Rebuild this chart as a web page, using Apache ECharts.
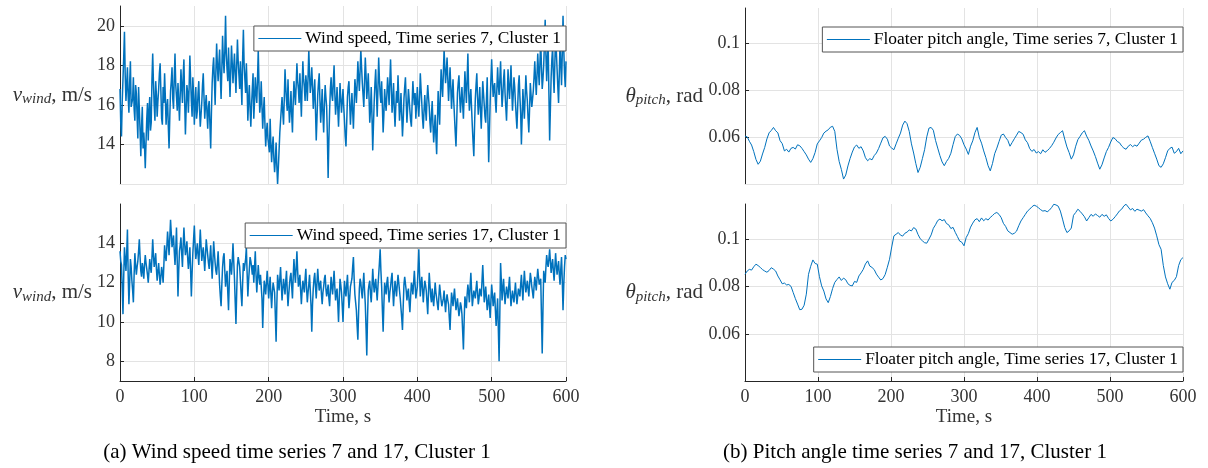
<!DOCTYPE html>
<html>
<head>
<meta charset="utf-8">
<title>Wind speed and pitch angle time series</title>
<script src="https://cdn.jsdelivr.net/npm/echarts@6/dist/echarts.min.js"></script>
<style>
  html, body { margin: 0; padding: 0; background: #fff; }
  #chart { width: 1208px; height: 468px; }
</style>
</head>
<body>
<div id="chart"></div>
<script>
// Sampling steps of the stored series, seconds
const WIND_STEP = 1;
const PITCH_STEP = 3;

// Wind speed, time series 7 (m/s), one value per second from 0 to 600 s
const windTs7 = [
  16.8, 15.1, 14.4, 16.2, 17.3, 18.4, 19.7, 17.5, 16.2, 17.0, 17.9, 16.4, 15.6, 17.1, 18.2, 15.9, 16.1, 16.3, 17.4, 15.8,
  15.2, 17.0, 16.6, 15.4, 14.3, 16.9, 15.8, 14.7, 13.4, 14.9, 15.9, 13.8, 14.6, 13.9, 12.8, 14.1, 15.3, 16.1, 14.2, 15.6,
  16.4, 14.7, 15.1, 17.3, 18.6, 17.1, 16.0, 15.2, 17.2, 16.5, 15.4, 16.2, 16.8, 17.6, 18.1, 16.7, 15.3, 15.0, 16.9, 16.1,
  17.6, 16.4, 15.0, 15.9, 16.3, 14.9, 13.8, 15.4, 16.7, 17.2, 17.9, 16.3, 15.8, 17.4, 18.6, 17.0, 16.4, 15.7, 17.1, 16.2,
  15.2, 16.5, 17.8, 16.9, 16.1, 17.5, 18.3, 16.2, 14.5, 15.8, 17.0, 16.6, 15.6, 16.9, 18.5, 17.3, 16.2, 15.4, 17.4, 16.5,
  15.0, 16.1, 16.9, 15.3, 15.7, 16.6, 17.2, 15.8, 14.9, 15.5, 16.1, 17.0, 17.6, 16.4, 15.3, 16.0, 16.5, 15.6, 14.8, 15.9,
  16.2, 15.0, 13.8, 15.6, 17.1, 17.9, 18.4, 17.2, 16.0, 17.7, 19.1, 18.0, 17.2, 18.1, 18.8, 17.4, 16.3, 17.8, 19.5, 18.3,
  17.6, 18.7, 20.5, 18.6, 17.8, 17.2, 18.9, 17.6, 16.4, 17.7, 19.0, 18.1, 17.1, 17.9, 18.6, 17.5, 16.6, 18.0, 19.3, 18.2,
  17.5, 16.8, 18.2, 17.1, 16.0, 18.4, 19.8, 18.0, 17.3, 16.6, 18.1, 16.9, 15.2, 16.3, 17.0, 15.8, 14.9, 16.0, 16.8, 17.6,
  15.3, 16.2, 17.4, 16.6, 16.1, 17.3, 18.8, 17.0, 15.6, 16.1, 17.2, 15.9, 14.8, 15.7, 16.4, 15.0, 13.9, 14.6, 15.1, 14.3,
  14.2, 13.6, 15.3, 14.0, 13.1, 13.9, 14.4, 13.3, 12.6, 13.2, 14.1, 12.9, 12.0, 12.8, 13.7, 14.6, 15.2, 15.8, 16.4, 15.6,
  15.0, 16.3, 17.8, 16.9, 16.2, 15.7, 17.3, 16.0, 15.1, 15.8, 16.7, 15.5, 14.6, 16.1, 17.2, 16.6, 16.0, 17.0, 18.1, 17.2,
  16.8, 16.1, 17.6, 16.5, 15.4, 16.9, 18.2, 17.3, 16.9, 16.2, 17.5, 17.0, 16.2, 17.4, 18.8, 17.5, 16.6, 17.1, 17.9, 16.9,
  15.8, 16.6, 17.3, 15.7, 14.2, 15.3, 16.5, 17.1, 17.6, 16.2, 15.1, 15.9, 16.8, 15.5, 14.6, 16.0, 17.0, 16.4, 15.9, 14.4,
  12.3, 14.2, 15.7, 16.8, 17.4, 16.5, 16.2, 17.2, 18.0, 16.6, 15.5, 16.1, 16.9, 15.8, 14.9, 16.0, 17.1, 16.3, 15.6, 16.2,
  16.8, 15.9, 15.2, 14.4, 13.9, 15.1, 16.4, 16.9, 17.2, 16.1, 15.0, 15.8, 16.6, 15.7, 14.8, 16.0, 17.3, 16.8, 16.1, 17.0,
  18.2, 17.4, 16.7, 17.7, 18.8, 17.9, 17.1, 16.5, 15.9, 17.2, 18.4, 17.5, 16.3, 16.9, 17.6, 16.4, 15.1, 15.8, 16.9, 15.4,
  13.7, 15.0, 16.2, 17.1, 17.8, 16.6, 15.4, 16.8, 18.4, 17.3, 16.5, 16.1, 17.2, 15.9, 14.6, 15.5, 16.8, 16.2, 15.7, 16.5,
  17.4, 16.8, 16.0, 17.2, 18.3, 16.9, 15.6, 16.2, 17.1, 15.8, 14.9, 15.9, 16.7, 16.1, 17.5, 16.4, 15.2, 15.8, 16.6, 15.5,
  14.4, 15.2, 16.3, 16.9, 17.4, 16.2, 15.1, 15.9, 16.8, 16.3, 15.7, 15.2, 14.9, 16.1, 17.2, 16.5, 16.0, 16.6, 15.3, 16.1,
  16.9, 16.0, 15.4, 16.3, 17.6, 16.8, 16.1, 15.3, 14.8, 15.7, 16.5, 15.8, 15.2, 16.3, 17.0, 16.4, 15.9, 15.1, 14.6, 15.5,
  16.2, 15.0, 14.1, 14.8, 15.5, 14.4, 13.5, 15.1, 16.7, 15.8, 15.0, 16.5, 17.8, 17.0, 16.4, 17.6, 18.8, 17.9, 17.1, 17.7,
  18.4, 17.3, 16.2, 17.0, 17.9, 16.9, 15.8, 16.6, 17.3, 16.2, 15.4, 14.6, 13.9, 15.2, 16.6, 17.1, 17.5, 16.4, 15.6, 16.3,
  16.9, 16.0, 15.3, 16.5, 17.7, 16.9, 16.1, 17.3, 18.6, 16.8, 15.7, 16.3, 16.8, 15.8, 14.9, 14.1, 13.4, 15.0, 16.3, 17.0,
  17.6, 16.4, 15.5, 16.1, 16.9, 15.7, 14.8, 16.0, 17.2, 16.6, 16.0, 15.4, 15.1, 16.3, 17.4, 15.2, 13.1, 14.6, 16.2, 17.3,
  18.3, 17.2, 16.4, 16.9, 17.1, 16.2, 15.6, 16.8, 17.9, 17.0, 16.5, 17.3, 18.2, 16.9, 15.9, 16.5, 17.3, 17.8, 16.6, 15.9,
  15.2, 16.4, 17.8, 17.0, 16.3, 17.1, 18.0, 16.8, 15.7, 16.5, 17.4, 16.9, 16.1, 15.4, 14.8, 15.9, 17.0, 17.5, 16.4, 15.6,
  14.0, 15.3, 16.8, 16.0, 15.3, 16.4, 17.5, 16.7, 16.2, 15.3, 14.6, 15.8, 17.1, 16.5, 15.9, 16.3, 16.7, 17.4, 18.2, 17.3,
  16.5, 17.5, 18.6, 17.7, 17.0, 18.2, 19.3, 17.9, 16.8, 17.3, 18.0, 19.1, 20.3, 18.5, 17.2, 18.4, 19.1, 16.6, 14.2, 15.8,
  17.4, 18.3, 18.9, 17.5, 16.6, 18.1, 19.6, 18.7, 17.8, 16.9, 16.1, 17.6, 19.2, 18.1, 17.0, 18.6, 20.5, 18.8, 17.6, 16.9,
  18.2
];

// Wind speed, time series 17 (m/s), one value per second from 0 to 600 s
const windTs17 = [
  13.6, 13.1, 12.9, 11.7, 10.4, 12.3, 13.8, 13.2, 12.6, 13.5, 14.7, 12.4, 10.9, 12.0, 13.2, 12.8, 12.1, 11.6, 11.0, 12.4,
  13.5, 12.9, 12.4, 12.8, 13.1, 13.6, 14.2, 13.3, 12.6, 12.3, 13.0, 12.7, 12.2, 12.9, 13.4, 13.0, 12.7, 12.4, 12.0, 12.6,
  13.2, 12.8, 12.5, 13.3, 14.2, 13.4, 12.8, 13.1, 13.5, 12.7, 12.1, 12.6, 13.0, 12.4, 11.9, 12.3, 12.8, 12.5, 12.0, 12.9,
  13.9, 13.4, 13.1, 13.8, 14.6, 14.0, 13.4, 14.3, 15.2, 14.5, 13.8, 14.1, 14.4, 13.6, 12.9, 13.7, 14.8, 13.1, 11.3, 12.6,
  13.6, 13.9, 14.3, 13.5, 12.8, 13.9, 14.8, 14.0, 13.4, 13.7, 14.1, 13.3, 12.7, 13.2, 13.8, 12.6, 11.3, 12.5, 13.5, 14.2,
  14.9, 13.9, 13.2, 13.6, 14.0, 13.4, 12.9, 13.8, 14.7, 13.9, 13.1, 13.5, 13.8, 13.2, 12.6, 13.4, 14.2, 13.8, 13.4, 13.0,
  12.7, 13.3, 13.9, 13.0, 12.2, 13.1, 14.1, 13.5, 13.0, 12.6, 12.4, 13.0, 13.6, 12.8, 11.9, 11.3, 10.8, 11.9, 12.8, 13.3,
  13.5, 12.6, 11.8, 12.3, 12.6, 11.5, 10.6, 12.0, 13.2, 12.9, 12.4, 13.1, 14.0, 13.1, 12.2, 11.0, 9.9, 11.5, 12.9, 13.3,
  13.4, 12.8, 12.1, 11.4, 10.8, 12.0, 13.0, 12.6, 12.5, 13.2, 13.8, 12.5, 11.3, 12.1, 12.7, 13.3, 13.1, 12.8, 12.4, 12.9,
  12.0, 12.8, 13.6, 12.4, 11.5, 12.2, 12.9, 12.3, 11.9, 12.4, 12.5, 11.2, 9.7, 11.0, 12.1, 11.8, 11.4, 12.0, 12.6, 11.9,
  11.2, 11.8, 12.3, 11.4, 10.7, 11.5, 12.0, 11.9, 11.5, 10.3, 9.0, 10.9, 12.4, 12.0, 11.6, 12.2, 12.8, 11.9, 11.1, 11.7,
  12.2, 11.8, 11.4, 12.1, 12.6, 11.6, 10.8, 11.4, 11.9, 12.3, 12.5, 11.8, 11.2, 12.3, 13.2, 12.5, 12.0, 12.8, 13.6, 12.6,
  11.8, 12.0, 12.4, 11.6, 10.9, 11.6, 12.1, 11.8, 11.5, 12.2, 12.7, 11.7, 11.0, 11.5, 11.9, 12.4, 12.3, 10.8, 9.5, 10.9,
  11.7, 12.2, 12.5, 11.8, 11.2, 12.0, 12.7, 12.1, 11.6, 11.9, 12.1, 11.4, 10.9, 11.5, 11.8, 12.2, 12.4, 11.7, 11.3, 11.6,
  11.9, 11.2, 10.8, 11.6, 12.3, 11.8, 11.4, 12.0, 12.6, 11.8, 11.1, 11.5, 11.7, 10.9, 10.0, 11.2, 12.2, 11.9, 11.5, 10.8,
  10.0, 11.1, 12.1, 11.6, 11.3, 11.9, 12.4, 11.5, 10.7, 11.2, 11.8, 12.0, 12.2, 12.8, 13.3, 12.2, 11.4, 11.0, 10.6, 9.8,
  9.1, 10.5, 11.7, 12.2, 12.0, 11.5, 11.2, 11.9, 12.5, 11.6, 10.9, 9.7, 8.3, 10.2, 11.6, 11.9, 12.1, 11.4, 11.0, 11.8,
  12.7, 12.0, 11.5, 11.9, 12.2, 11.6, 11.1, 11.8, 12.4, 13.0, 13.7, 12.6, 11.8, 10.6, 9.5, 10.9, 12.0, 11.7, 11.4, 12.0,
  12.3, 11.6, 11.0, 11.5, 11.8, 12.2, 12.5, 11.6, 10.8, 11.5, 12.1, 11.7, 11.3, 11.9, 12.4, 12.0, 11.6, 11.2, 10.7, 10.2,
  9.6, 10.8, 11.9, 12.3, 12.2, 11.6, 11.1, 11.5, 11.7, 11.0, 10.5, 11.3, 12.0, 11.8, 11.4, 12.0, 12.6, 11.9, 11.2, 11.5,
  11.8, 12.7, 13.7, 12.4, 11.3, 11.9, 12.3, 11.7, 11.0, 11.6, 12.1, 11.9, 11.6, 11.0, 10.4, 11.5, 12.5, 11.9, 11.3, 11.0,
  11.7, 11.2, 10.8, 11.4, 12.0, 11.5, 11.2, 10.9, 10.6, 11.3, 11.9, 11.5, 11.1, 10.8, 10.7, 11.2, 11.6, 11.0, 10.5, 11.1,
  11.4, 11.1, 10.9, 10.2, 9.6, 10.6, 11.5, 11.2, 10.8, 11.3, 11.7, 11.1, 10.6, 10.9, 11.2, 10.7, 10.3, 10.6, 11.0, 10.8,
  10.4, 9.5, 8.6, 10.1, 11.3, 11.0, 10.7, 11.4, 11.9, 11.5, 11.0, 11.8, 12.5, 11.6, 10.8, 11.2, 11.6, 11.4, 11.2, 11.7,
  12.1, 11.5, 10.9, 11.2, 11.7, 11.5, 11.3, 12.1, 12.9, 12.0, 11.0, 11.4, 11.8, 11.2, 10.6, 11.0, 11.4, 10.8, 10.2, 11.1,
  11.9, 11.4, 10.8, 11.2, 11.5, 10.6, 9.8, 10.5, 11.2, 9.6, 8.0, 10.5, 13.0, 12.1, 11.1, 11.7, 12.2, 11.5, 10.9, 11.4,
  11.8, 11.5, 11.2, 11.8, 12.3, 11.5, 10.8, 11.2, 11.6, 11.3, 11.0, 11.5, 12.0, 11.4, 10.9, 11.3, 11.7, 11.5, 11.3, 11.9,
  12.4, 11.7, 11.1, 11.9, 12.6, 12.0, 11.5, 11.8, 12.1, 11.7, 11.3, 11.9, 12.5, 12.2, 11.8, 11.5, 11.2, 11.8, 12.3, 12.0,
  11.6, 12.2, 12.7, 12.3, 11.9, 12.0, 12.2, 10.3, 8.4, 10.6, 12.6, 12.3, 12.0, 12.8, 13.4, 13.0, 12.8, 13.2, 13.7, 13.1,
  12.5, 12.9, 13.2, 12.6, 12.1, 12.8, 13.5, 12.9, 12.4, 12.8, 13.1, 12.4, 11.9, 12.7, 13.3, 12.1, 10.6, 11.9, 12.8, 13.4,
  13.2
];

// Floater pitch angle, time series 7 (rad), one value every 3 s from 0 to 600 s
const pitchTs7 = [
  0.0604, 0.0601, 0.0582, 0.0566, 0.0538, 0.0505, 0.0484, 0.0497, 0.0528, 0.0556,
  0.0592, 0.0618, 0.0628, 0.0641, 0.0627, 0.0618, 0.0585, 0.0572, 0.0541, 0.0548,
  0.0536, 0.0552, 0.0556, 0.0549, 0.0567, 0.0563, 0.0552, 0.0538, 0.0524, 0.0506,
  0.0492, 0.0508, 0.0534, 0.0571, 0.0584, 0.0598, 0.0617, 0.0625, 0.0631, 0.0642,
  0.0646, 0.0624, 0.0548, 0.0496, 0.0462, 0.0421, 0.0438, 0.0477, 0.0509, 0.0536,
  0.0558, 0.0566, 0.0552, 0.0559, 0.0541, 0.0512, 0.0499, 0.0508, 0.0503, 0.0521,
  0.0532, 0.0551, 0.0574, 0.0597, 0.0603, 0.0591, 0.0562, 0.0553, 0.0546, 0.0571,
  0.0595, 0.0617, 0.0651, 0.0668, 0.0657, 0.0624, 0.0571, 0.0532, 0.0487, 0.0449,
  0.0471, 0.0508, 0.0546, 0.0601, 0.0638, 0.0641, 0.0629, 0.0586, 0.0553, 0.0521,
  0.0494, 0.0478, 0.0496, 0.0509, 0.0531, 0.0568, 0.0602, 0.0613, 0.0607, 0.0592,
  0.0567, 0.0549, 0.0526, 0.0561, 0.0584, 0.0619, 0.0641, 0.0598, 0.0574, 0.0541,
  0.0512, 0.0478, 0.0456, 0.0487, 0.0529, 0.0553, 0.0581, 0.0608, 0.0613, 0.0598,
  0.0586, 0.0561, 0.0577, 0.0593, 0.0608, 0.0624, 0.0619, 0.0612, 0.0588, 0.0576,
  0.0551, 0.0539, 0.0547, 0.0532, 0.0538, 0.0529, 0.0546, 0.0535, 0.0542, 0.0551,
  0.0563, 0.0578, 0.0596, 0.0611, 0.0619, 0.0627, 0.0591, 0.0558, 0.0534, 0.0506,
  0.0524, 0.0561, 0.0589, 0.0603, 0.0618, 0.0627, 0.0604, 0.0586, 0.0562, 0.0541,
  0.0517, 0.0489, 0.0463, 0.0482, 0.0511, 0.0538, 0.0556, 0.0579, 0.0598, 0.0593,
  0.0581, 0.0576, 0.0562, 0.0553, 0.0548, 0.0561, 0.0568, 0.0559, 0.0566, 0.0561,
  0.0574, 0.0587, 0.0591, 0.0599, 0.0605, 0.0582, 0.0556, 0.0531, 0.0506, 0.0478,
  0.0471, 0.0486, 0.0512, 0.0541, 0.0552, 0.0557, 0.0531, 0.0538, 0.0552, 0.0529,
  0.0541
];

// Floater pitch angle, time series 17 (rad), one value every 3 s from 0 to 600 s
const pitchTs17 = [
  0.0852, 0.0866, 0.0873, 0.0870, 0.0884, 0.0895, 0.0889, 0.0881, 0.0872, 0.0866,
  0.0861, 0.0868, 0.0880, 0.0874, 0.0866, 0.0845, 0.0829, 0.0812, 0.0815, 0.0807,
  0.0809, 0.0801, 0.0775, 0.0749, 0.0726, 0.0702, 0.0704, 0.0721, 0.0768, 0.0852,
  0.0886, 0.0913, 0.0898, 0.0895, 0.0842, 0.0803, 0.0781, 0.0748, 0.0732, 0.0758,
  0.0792, 0.0818, 0.0830, 0.0841, 0.0826, 0.0836, 0.0829, 0.0812, 0.0805, 0.0803,
  0.0822, 0.0818, 0.0845, 0.0858, 0.0873, 0.0896, 0.0909, 0.0887, 0.0881, 0.0872,
  0.0853, 0.0840, 0.0828, 0.0834, 0.0851, 0.0882, 0.0916, 0.0968, 0.1015, 0.1022,
  0.1029, 0.1018, 0.1014, 0.1026, 0.1031, 0.1040, 0.1036, 0.1050, 0.1044, 0.1021,
  0.1003, 0.0994, 0.0986, 0.0984, 0.1001, 0.1019, 0.1047, 0.1062, 0.1080, 0.1086,
  0.1079, 0.1084, 0.1067, 0.1062, 0.1046, 0.1051, 0.1030, 0.1012, 0.0993, 0.0988,
  0.0973, 0.1008, 0.1025, 0.1052, 0.1069, 0.1083, 0.1088, 0.1075, 0.1091, 0.1079,
  0.1088, 0.1082, 0.1093, 0.1101, 0.1110, 0.1114, 0.1106, 0.1092, 0.1068, 0.1055,
  0.1036, 0.1029, 0.1022, 0.1026, 0.1035, 0.1058, 0.1078, 0.1092, 0.1106, 0.1120,
  0.1128, 0.1138, 0.1145, 0.1141, 0.1134, 0.1126, 0.1120, 0.1122, 0.1117, 0.1124,
  0.1135, 0.1149, 0.1146, 0.1141, 0.1120, 0.1086, 0.1050, 0.1029, 0.1036, 0.1048,
  0.1102, 0.1114, 0.1128, 0.1119, 0.1108, 0.1096, 0.1078, 0.1092, 0.1106, 0.1098,
  0.1108, 0.1101, 0.1094, 0.1106, 0.1098, 0.1104, 0.1089, 0.1078, 0.1085, 0.1096,
  0.1108, 0.1121, 0.1128, 0.1142, 0.1149, 0.1137, 0.1125, 0.1131, 0.1119, 0.1128,
  0.1124, 0.1120, 0.1126, 0.1112, 0.1100, 0.1089, 0.1071, 0.1048, 0.1015, 0.0978,
  0.0958, 0.0890, 0.0841, 0.0812, 0.0789, 0.0818, 0.0826, 0.0842, 0.0889, 0.0914,
  0.0923
];

// Tick values shown on each y axis
const windTicks7 = [14, 16, 18, 20];
const windTicks17 = [8, 10, 12, 14];
const pitchTicks = [0.06, 0.08, 0.1];

// Series / legend names and captions
const NAME_WIND_7 = 'Wind speed, Time series 7, Cluster 1';
const NAME_WIND_17 = 'Wind speed, Time series 17, Cluster 1';
const NAME_PITCH_7 = 'Floater pitch angle, Time series 7, Cluster 1';
const NAME_PITCH_17 = 'Floater pitch angle, Time series 17, Cluster 1';
const CAPTION_A = '(a) Wind speed time series 7 and 17, Cluster 1';
const CAPTION_B = '(b) Pitch angle time series 7 and 17, Cluster 1';
const X_LABEL = 'Time, s';

const SERIF = '"Liberation Serif", "Times New Roman", "DejaVu Serif", serif';
const LINE_BLUE = '#0072BD';
const AXIS_DARK = '#262626';
const GRID_LIGHT = '#e3e3e3';
const TEXT_GREY = '#333333';

const toPairs = (vals, step) => vals.map((v, i) => [i * step, v]);

function xAxis(gridIndex, showLabels) {
  return {
    type: 'value', gridIndex, min: 0, max: 600, interval: 100,
    name: showLabels ? X_LABEL : '',
    nameLocation: 'middle', nameGap: 27,
    nameTextStyle: { fontFamily: SERIF, fontSize: 19, color: TEXT_GREY },
    axisLine: { show: true, onZero: false, lineStyle: { color: showLabels ? AXIS_DARK : GRID_LIGHT, width: 1 } },
    axisTick: { show: showLabels, inside: true, length: 4, lineStyle: { color: AXIS_DARK } },
    axisLabel: { show: showLabels, margin: 7, fontFamily: SERIF, fontSize: 18, color: TEXT_GREY },
    splitLine: { show: true, lineStyle: { color: GRID_LIGHT, width: 1 } }
  };
}

function yAxis(gridIndex, min, max, ticks, nameRich, nameGap) {
  return {
    type: 'value', gridIndex, min, max,
    name: nameRich, nameLocation: 'middle', nameRotate: 0, nameGap,
    nameTextStyle: {
      align: 'right', verticalAlign: 'middle', fontFamily: SERIF, color: TEXT_GREY,
      rich: {
        m: { fontFamily: SERIF, fontStyle: 'italic', fontSize: 21, lineHeight: 24, color: TEXT_GREY },
        s: { fontFamily: SERIF, fontStyle: 'italic', fontSize: 15, lineHeight: 15, verticalAlign: 'bottom', color: TEXT_GREY },
        n: { fontFamily: SERIF, fontSize: 21, lineHeight: 24, color: TEXT_GREY }
      }
    },
    axisLine: { show: true, onZero: false, lineStyle: { color: AXIS_DARK, width: 1 } },
    axisTick: { show: true, inside: true, length: 4, customValues: ticks, lineStyle: { color: AXIS_DARK } },
    axisLabel: {
      show: true, customValues: ticks, margin: 5, fontFamily: SERIF, fontSize: 18, color: TEXT_GREY,
      formatter: (v) => String(+Number(v).toFixed(4))
    },
    splitLine: { show: true, lineStyle: { color: GRID_LIGHT, width: 1 } }
  };
}

function legend(name, right, top) {
  return {
    data: [name], right, top, orient: 'horizontal',
    backgroundColor: '#ffffff', borderColor: '#555555', borderWidth: 1, borderRadius: 0,
    padding: [4, 5, 4, 4], itemWidth: 43, itemHeight: 17, itemGap: 0,
    itemStyle: { opacity: 0 },
    lineStyle: { width: 1, color: LINE_BLUE },
    textStyle: { fontFamily: SERIF, fontSize: 17.4, color: '#000000', padding: [0, 0, 0, -1] },
    selectedMode: false
  };
}

function lineSeries(name, idx, data, width) {
  return {
    name, type: 'line', xAxisIndex: idx, yAxisIndex: idx, data,
    symbol: 'none', showSymbol: false, sampling: null, clip: true,
    lineStyle: { color: LINE_BLUE, width }, itemStyle: { color: LINE_BLUE },
    emphasis: { disabled: true }, z: 3
  };
}

const chart = echarts.init(document.getElementById('chart'), null, { renderer: 'canvas' });

chart.setOption({
  animation: false,
  backgroundColor: '#ffffff',
  textStyle: { fontFamily: SERIF },
  grid: [
    { left: 120, top: 6, width: 446, height: 178 },
    { left: 120, top: 204, width: 446, height: 177 },
    { left: 745, top: 8, width: 438, height: 176 },
    { left: 745, top: 204, width: 438, height: 177 }
  ],
  xAxis: [xAxis(0, false), xAxis(1, true), xAxis(2, false), xAxis(3, true)],
  yAxis: [
    yAxis(0, 12, 21, windTicks7, '{m|v}{s|wind}{n|, m/s}', 28),
    yAxis(1, 7, 16, windTicks17, '{m|v}{s|wind}{n|, m/s}', 28),
    yAxis(2, 0.04, 0.115, pitchTicks, '{m|θ}{s|pitch}{n|, rad}', 42),
    yAxis(3, 0.04, 0.115, pitchTicks, '{m|θ}{s|pitch}{n|, rad}', 42)
  ],
  legend: [
    legend(NAME_WIND_7, 642, 26),
    legend(NAME_WIND_17, 642, 223),
    legend(NAME_PITCH_7, 25, 27),
    legend(NAME_PITCH_17, 25, 347)
  ],
  series: [
    lineSeries(NAME_WIND_7, 0, toPairs(windTs7, WIND_STEP), 1.5),
    lineSeries(NAME_WIND_17, 1, toPairs(windTs17, WIND_STEP), 1.5),
    lineSeries(NAME_PITCH_7, 2, toPairs(pitchTs7, PITCH_STEP), 1),
    lineSeries(NAME_PITCH_17, 3, toPairs(pitchTs17, PITCH_STEP), 1)
  ],
  graphic: [
    { type: 'text', x: 297, y: 452, style: { text: CAPTION_A, font: '21px ' + SERIF, fill: '#000', align: 'center', verticalAlign: 'middle' } },
    { type: 'text', x: 915, y: 452, style: { text: CAPTION_B, font: '21px ' + SERIF, fill: '#000', align: 'center', verticalAlign: 'middle' } }
  ]
});
</script>
</body>
</html>
